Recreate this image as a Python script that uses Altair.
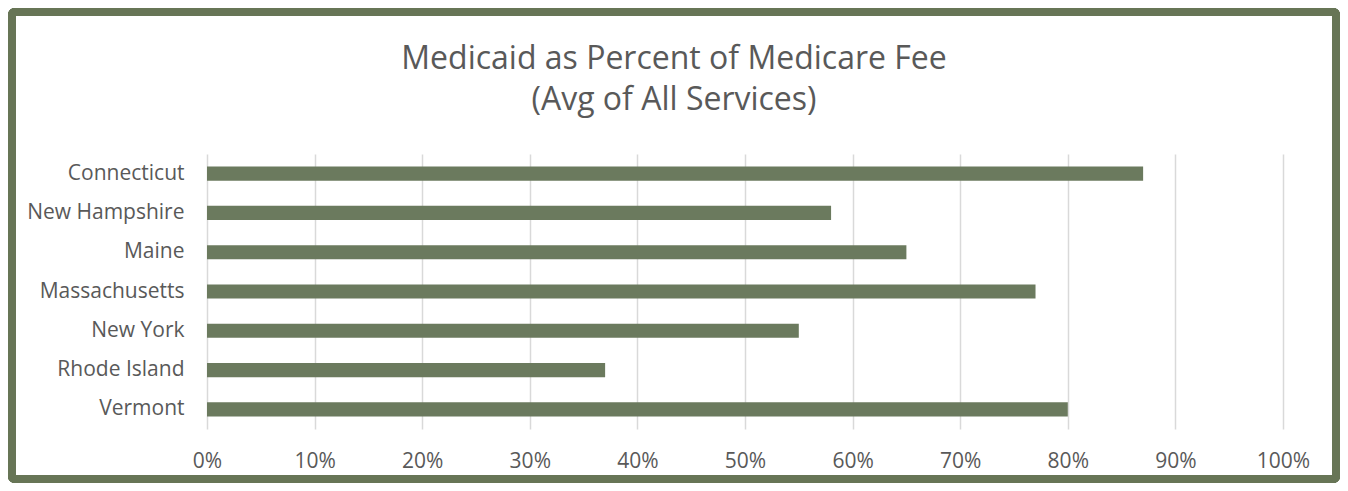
import altair as alt
import pandas as pd

states = ["Connecticut", "New Hampshire", "Maine", "Massachusetts", "New York", "Rhode Island", "Vermont"]
values = [0.87, 0.58, 0.65, 0.77, 0.55, 0.37, 0.80]
ticks = [0, 0.1, 0.2, 0.3, 0.4, 0.5, 0.6, 0.7, 0.8, 0.9, 1.0]

df = pd.DataFrame({"state": states, "value": values})

FONT = "Open Sans"
W, H = 1076, 275

bars = alt.Chart(df).mark_bar(color="#6b7a5e").encode(
    x=alt.X("value:Q", scale=alt.Scale(domain=[0, 1], nice=False),
            axis=alt.Axis(values=ticks, format=".0%", title=None, grid=True,
                          gridColor="#d9d9d9", gridWidth=1.5, domain=False, ticks=False,
                          labelFlush=False, labelPadding=21, labelFontSize=21,
                          labelColor="#595959", labelFont=FONT)),
    y=alt.Y("state:N", sort=states,
            scale=alt.Scale(paddingInner=0.64, paddingOuter=0.32),
            axis=alt.Axis(title=None, domain=False, ticks=False, labelPadding=23,
                          labelFontSize=21, labelColor="#595959", labelFont=FONT)),
)

frame = alt.Chart(df).mark_rect(fill=None, stroke="#677556", strokeWidth=8, cornerRadius=3).encode(
    x=alt.value(-195), x2=alt.value(1129), y=alt.value(-142), y2=alt.value(325)
)

chart = alt.layer(bars, frame).properties(
    width=W, height=H,
    autosize=alt.AutoSizeParams(type="none"),
    padding={"left": 199, "top": 146, "right": 57, "bottom": 54},
    title=alt.TitleParams(
        text=["Medicaid as Percent of Medicare Fee", "(Avg of All Services)"],
        fontSize=32, font=FONT, fontWeight="normal", color="#595959",
        anchor="middle", frame="group", dx=-71, offset=-109, lineHeight=41,
    ),
).configure_view(stroke=None)

chart.save("out.html", embed_options={"renderer": "svg", "actions": False})
